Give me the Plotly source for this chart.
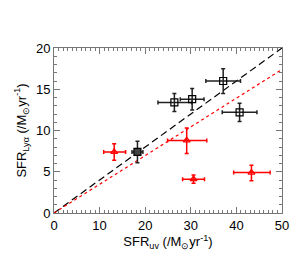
import plotly.graph_objects as go

# Black squares
blk_x = [18.3, 26.4, 30.3, 37.1, 40.7]
blk_y = [7.4, 13.4, 13.8, 16.0, 12.2]
blk_xlo = [1.2, 3.6, 2.6, 3.8, 3.8]
blk_xhi = [1.2, 3.8, 2.6, 3.8, 3.8]
blk_ylo = [1.3, 1.1, 1.3, 1.5, 1.1]
blk_yhi = [1.3, 1.1, 1.3, 1.5, 1.1]

# Red triangles
red_x = [13.2, 29.1, 30.6, 43.3]
red_y = [7.4, 8.8, 4.1, 4.9]
red_xlo = [2.3, 4.2, 2.4, 3.9]
red_xhi = [2.5, 4.4, 2.4, 4.1]
red_ylo = [1.0, 1.6, 0.5, 1.0]
red_yhi = [1.0, 1.5, 0.5, 0.9]

line_x = [0, 50]
black_slope = 0.4
red_slope = 0.348

fig = go.Figure()

fig.add_trace(go.Scatter(x=line_x, y=[v * black_slope for v in line_x], mode="lines",
                         line=dict(color="black", width=1.2, dash="7px,4px"), showlegend=False))
fig.add_trace(go.Scatter(x=line_x, y=[v * red_slope for v in line_x], mode="lines",
                         line=dict(color="red", width=1.2, dash="3px,3px"), showlegend=False))

fig.add_trace(go.Scatter(
    x=red_x, y=red_y, mode="markers",
    marker=dict(symbol="triangle-up-open", size=6, color="red", line=dict(width=1.3, color="red")),
    error_x=dict(type="data", symmetric=False, array=red_xhi, arrayminus=red_xlo,
                 color="red", thickness=1.5, width=2),
    error_y=dict(type="data", symmetric=False, array=red_yhi, arrayminus=red_ylo,
                 color="red", thickness=1.5, width=2),
    showlegend=False))

fig.add_trace(go.Scatter(
    x=blk_x, y=blk_y, mode="markers",
    marker=dict(symbol=["square", "square-open", "square-open", "square-open", "square-open"],
                size=7, color=["#444", "black", "black", "black", "black"],
                line=dict(width=1.2, color="black")),
    error_x=dict(type="data", symmetric=False, array=blk_xhi, arrayminus=blk_xlo,
                 color="#222", thickness=1.5, width=2),
    error_y=dict(type="data", symmetric=False, array=blk_yhi, arrayminus=blk_ylo,
                 color="#222", thickness=1.5, width=2),
    showlegend=False))

axis_common = dict(showline=True, linecolor="#777", linewidth=1, mirror="ticks",
                   ticks="inside", ticklen=6, tickcolor="#777", showgrid=False, zeroline=False,
                   tickfont=dict(family="Liberation Sans, Arial", size=13, color="black"))

fig.update_xaxes(range=[0, 50], tickvals=[0, 10, 20, 30, 40, 50],
                 minor=dict(dtick=1, ticks="inside", ticklen=3, tickcolor="#777"),
                 title=dict(text="SFR<sub>uv</sub> (/M<sub>⊙</sub>yr<sup>-1</sup>)",
                            font=dict(family="Liberation Sans, Arial", size=13, color="black"),
                            standoff=4),
                 **axis_common)
fig.update_yaxes(range=[0, 20], tickvals=[0, 5, 10, 15, 20],
                 minor=dict(dtick=1, ticks="inside", ticklen=3, tickcolor="#777"),
                 title=dict(text="SFR<sub>Lyα</sub> (/M<sub>⊙</sub>yr<sup>-1</sup>)",
                            font=dict(family="Liberation Sans, Arial", size=13, color="black"),
                            standoff=6),
                 **axis_common)

fig.update_layout(width=291, height=268, margin=dict(l=46, r=10, t=40, b=63),
                  plot_bgcolor="white", paper_bgcolor="white")

fig.write_html("out.html")
